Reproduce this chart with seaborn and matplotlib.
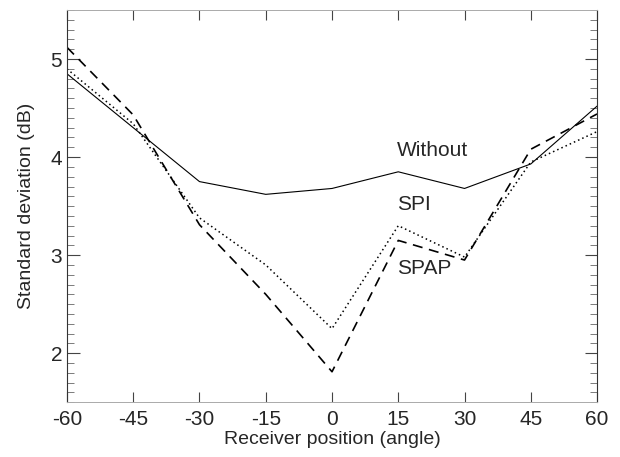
import matplotlib
matplotlib.use("Agg")
import matplotlib.pyplot as plt
import seaborn as sns
import pandas as pd
from matplotlib.ticker import MultipleLocator

angles = [-60, -45, -30, -15, 0, 15, 30, 45, 60]
without = [4.85, 4.30, 3.75, 3.62, 3.68, 3.85, 3.68, 3.93, 4.52]
spi = [4.90, 4.34, 3.38, 2.90, 2.25, 3.30, 2.98, 3.95, 4.26]
spap = [5.12, 4.43, 3.31, 2.60, 1.81, 3.15, 2.95, 4.08, 4.44]
series_names = ["Without", "SPI", "SPAP"]
x_ticks = [-60, -45, -30, -15, 0, 15, 30, 45, 60]
y_ticks = [2, 3, 4, 5]

sns.set_theme(style="ticks")
plt.rcParams["font.family"] = ["Liberation Sans", "DejaVu Sans"]

df = pd.DataFrame({
    "angle": angles * 3,
    "value": without + spi + spap,
    "series": [s for s in series_names for _ in angles],
})

fig = plt.figure(figsize=(6.2, 4.57), dpi=100)
ax = fig.add_axes([0.108, 0.12, 0.855, 0.858])

styles = {"Without": dict(ls="-", lw=0.8),
          "SPI": dict(ls=(0, (1, 2)), lw=1.1),
          "SPAP": dict(ls=(0, (6, 4)), lw=1.2)}
for name in series_names:
    sub = df[df["series"] == name]
    sns.lineplot(data=sub, x="angle", y="value", ax=ax, color="black",
                 linestyle=styles[name]["ls"], linewidth=styles[name]["lw"],
                 legend=False)

ax.set_xlim(-60, 60)
ax.set_ylim(1.5, 5.5)
ax.set_xticks(x_ticks)
ax.set_xticklabels([str(t) for t in x_ticks])
ax.set_yticks(y_ticks)
ax.yaxis.set_minor_locator(MultipleLocator(0.1))
ax.tick_params(axis="both", which="major", direction="in", labelsize=15,
               color="#444444", length=9, width=0.8)
ax.tick_params(axis="y", which="both", right=True)
ax.tick_params(axis="y", which="minor", direction="in", length=5,
               width=0.6, color="#666666")
ax.tick_params(axis="x", which="major", top=True, length=7)
ax.tick_params(axis="x", pad=6)

for side in ["left", "right"]:
    ax.spines[side].set_color("#333333")
    ax.spines[side].set_linewidth(0.8)
for side in ["top", "bottom"]:
    ax.spines[side].set_color("#aaaaaa")
    ax.spines[side].set_linewidth(0.7)

ax.set_xlabel("Receiver position (angle)", fontsize=14, labelpad=1)
ax.set_ylabel("Standard deviation (dB)", fontsize=14, labelpad=11)

label_pos = {"Without": 4.07, "SPI": 3.52, "SPAP": 2.86}
for name in series_names:
    ax.text(14.7, label_pos[name], name, fontsize=15, ha="left", va="center")

fig.savefig("out.png", dpi=100)
